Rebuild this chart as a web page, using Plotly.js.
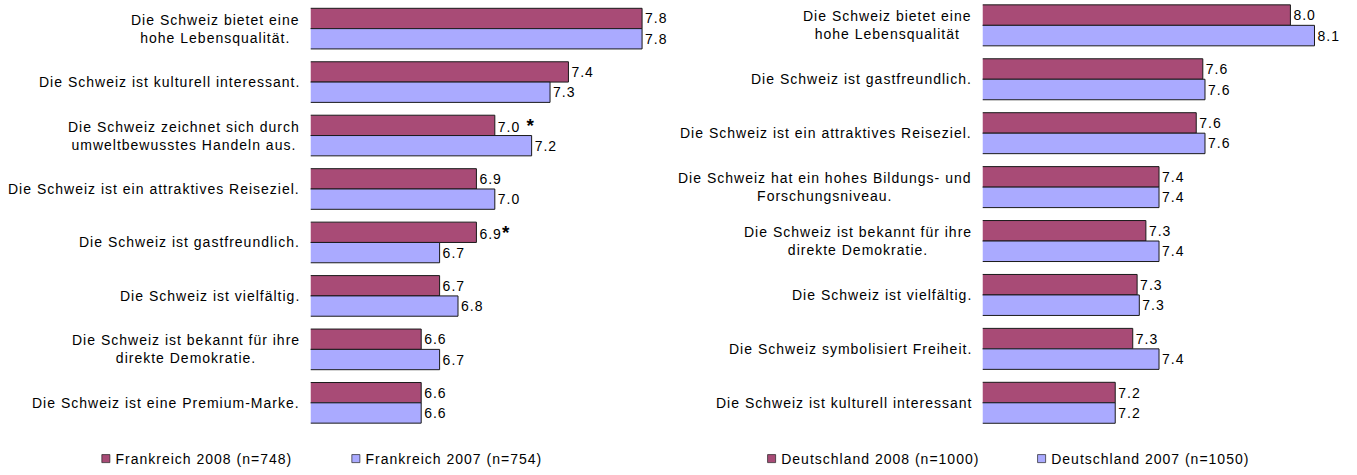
<!DOCTYPE html>
<html><head><meta charset="utf-8">
<script src="https://cdn.plot.ly/plotly-3.0.1.min.js"></script>
<style>
html,body{margin:0;padding:0;background:#fff;}
#chart{width:1357px;height:475px;}
svg text, text{letter-spacing:1px;}
#chart .legendpoints path{scale:0.67;translate:17px 0;transform-box:fill-box;transform-origin:center;}
</style></head><body><div id="chart"></div>
<script>
// ---- Data: Frankreich (left panel) ----
const frCategories = [
  "Die Schweiz bietet eine<br>hohe Lebensqualität.",
  "Die Schweiz ist kulturell interessant.",
  "Die Schweiz zeichnet sich durch<br>umweltbewusstes Handeln aus.",
  "Die Schweiz ist ein attraktives Reiseziel.",
  "Die Schweiz ist gastfreundlich.",
  "Die Schweiz ist vielfältig.",
  "Die Schweiz ist bekannt für ihre<br>direkte Demokratie.",
  "Die Schweiz ist eine Premium-Marke."
];
const fr2008 = [7.8, 7.4, 7.0, 6.9, 6.9, 6.7, 6.6, 6.6];
const fr2007 = [7.8, 7.3, 7.2, 7.0, 6.7, 6.8, 6.7, 6.6];
const fr2008Marks = ["", "", " *", "", "*", "", "", ""];
const fr2008Name = "Frankreich 2008 (n=748)";
const fr2007Name = "Frankreich 2007 (n=754)";

// ---- Data: Deutschland (right panel) ----
const deCategories = [
  "Die Schweiz bietet eine<br>hohe Lebensqualität",
  "Die Schweiz ist gastfreundlich.",
  "Die Schweiz ist ein attraktives Reiseziel.",
  "Die Schweiz hat ein hohes Bildungs- und<br>Forschungsniveau.",
  "Die Schweiz ist bekannt für ihre<br>direkte Demokratie.",
  "Die Schweiz ist vielfältig.",
  "Die Schweiz symbolisiert Freiheit.",
  "Die Schweiz ist kulturell interessant"
];
const de2008 = [8.0, 7.6, 7.57, 7.4, 7.34, 7.3, 7.28, 7.2];
const de2007 = [8.11, 7.61, 7.61, 7.4, 7.4, 7.31, 7.4, 7.2];
const de2008Name = "Deutschland 2008 (n=1000)";
const de2007Name = "Deutschland 2007 (n=1050)";

// ---- Styling ----
const FONT = "Liberation Sans, Arial, sans-serif";
const C2008 = "#A84B76";
const C2007 = "#AAAAFF";
const LINE = {color: "#1a1a1a", width: 1};

function markSpan(m) {
  return m ? '<span style="font-size:19px;font-weight:bold">' + m + '</span>' : "";
}

function barTrace(vals, cats, name, color, xa, ya, legend, marks) {
  return {
    type: "bar", orientation: "h",
    x: vals, y: cats, name: name,
    xaxis: xa, yaxis: ya, legend: legend,
    marker: {color: color, line: LINE},
    text: marks ? marks.map(markSpan) : vals.map(() => ""),
    texttemplate: "%{x:.1f}%{text}",
    textposition: "outside",
    textfont: {family: FONT, size: 14, color: "#000"},
    constraintext: "none",
    cliponaxis: false,
    hoverinfo: "skip"
  };
}

const data = [
  barTrace(fr2008, frCategories, fr2008Name, C2008, "x", "y", "legend", fr2008Marks),
  barTrace(fr2007, frCategories, fr2007Name, C2007, "x", "y", "legend", null),
  barTrace(de2008, deCategories, de2008Name, C2008, "x2", "y2", "legend2", null),
  barTrace(de2007, deCategories, de2007Name, C2007, "x2", "y2", "legend2", null)
];

function catLabels(cats, xref, yref) {
  return cats.map(c => ({
    text: c, xref: xref + " domain", yref: yref, x: 0, y: c,
    xanchor: "right", yanchor: "middle", align: "center",
    xshift: -9, showarrow: false,
    font: {family: FONT, size: 14, color: "#000"}
  }));
}

const hiddenX = {showgrid: false, zeroline: false, showline: false, showticklabels: false, ticks: "", fixedrange: true};
const hiddenY = {type: "category", showgrid: false, zeroline: false, showline: false, showticklabels: false, ticks: "", fixedrange: true};

const legendFont = {family: FONT, size: 14, color: "#000"};

const layout = {
  width: 1357, height: 475,
  margin: {l: 0, r: 0, t: 0, b: 0},
  paper_bgcolor: "#fff", plot_bgcolor: "rgba(0,0,0,0)",
  font: {family: FONT, size: 14, color: "#000"},
  barmode: "group", bargap: 0.24, bargroupgap: 0,
  showlegend: true,
  xaxis: Object.assign({domain: [0.229, 0.4935], range: [6, 7.95], anchor: "y"}, hiddenX),
  yaxis: Object.assign({domain: [0.0899, 0.996], range: [7.5, -0.5], anchor: "x"}, hiddenY),
  xaxis2: Object.assign({domain: [0.7242, 0.9832], range: [6.595, 8.2], anchor: "y2"}, hiddenX),
  yaxis2: Object.assign({domain: [0.0918, 1], range: [7.48, -0.47], anchor: "x2"}, hiddenY),
  legend: {orientation: "h", x: 0.0556, y: 0.027, xanchor: "left", yanchor: "middle",
           font: legendFont, bgcolor: "rgba(0,0,0,0)", itemwidth: 30, traceorder: "normal",
           entrywidth: 205, entrywidthmode: "pixels"},
  legend2: {orientation: "h", x: 0.5462, y: 0.027, xanchor: "left", yanchor: "middle",
           font: legendFont, bgcolor: "rgba(0,0,0,0)", itemwidth: 30, traceorder: "normal",
           entrywidth: 225, entrywidthmode: "pixels"},
  annotations: catLabels(frCategories, "x", "y").concat(catLabels(deCategories, "x2", "y2"))
};

Plotly.newPlot("chart", data, layout, {displayModeBar: false, staticPlot: true});
</script></body></html>
